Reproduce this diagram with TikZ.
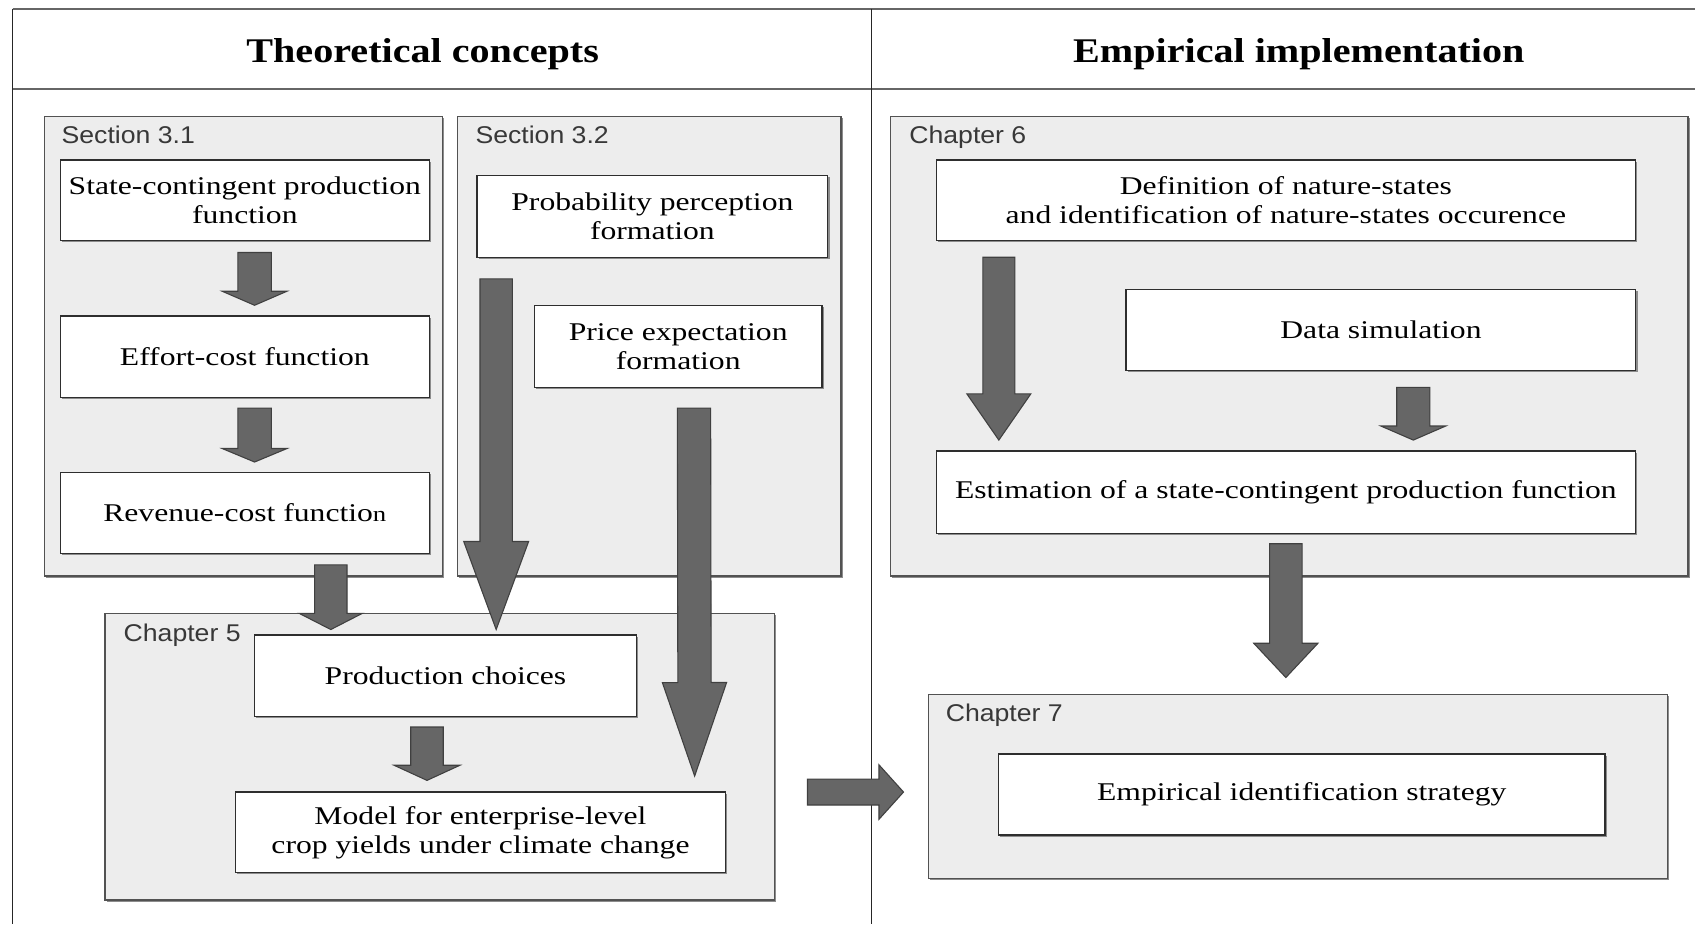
\documentclass[tikz,border=0pt]{standalone}
\usepackage{fontspec}
\setmainfont[FakeStretch=1.24]{Liberation Serif}
\newfontfamily\headfont[FakeStretch=1.16]{Liberation Serif}
\setsansfont[FakeStretch=1.1]{Liberation Sans}
\usetikzlibrary{calc,shadows}

% block arrow: #1 start, #2 tip, #3 half shaft width, #4 half head width, #5 head length
\newcommand\fatarrow[5]{%
  \draw[fatarrowstyle] let \p1=(#1), \p2=(#2),
     \n1={veclen(\x2-\x1,\y2-\y1)},
     \n2={(\x2-\x1)/\n1}, \n3={(\y2-\y1)/\n1}
  in ({\x1+(#3)*\n3},{\y1-(#3)*\n2})
  -- ({\x2-(#5)*\n2+(#3)*\n3},{\y2-(#5)*\n3-(#3)*\n2})
  -- ({\x2-(#5)*\n2+(#4)*\n3},{\y2-(#5)*\n3-(#4)*\n2})
  -- (\x2,\y2)
  -- ({\x2-(#5)*\n2-(#4)*\n3},{\y2-(#5)*\n3+(#4)*\n2})
  -- ({\x2-(#5)*\n2-(#3)*\n3},{\y2-(#5)*\n3+(#3)*\n2})
  -- ({\x1-(#3)*\n3},{\y1+(#3)*\n2}) -- cycle;}

\tikzset{
  frameline/.style={draw=black!60, line width=1.6pt},
  framevert/.style={draw=black!85, line width=1.1pt},
  container/.style={draw=black!68, fill=black!7, line width=1.2pt, inner sep=0pt,
    drop shadow={shadow xshift=1.6pt, shadow yshift=-1.6pt, fill=black!45, opacity=1}},
  stepbox/.style={draw=black!82, fill=white, line width=1.2pt, inner sep=0pt, align=center,
    font=\fontsize{23.6}{26.8}\selectfont,
    drop shadow={shadow xshift=1.6pt, shadow yshift=-1.6pt, fill=black!45, opacity=1}},
  partlabel/.style={anchor=base west, inner sep=0pt, text=black!78,
    font=\sffamily\fontsize{22.4}{26}\selectfont},
  columnhead/.style={anchor=base, inner sep=0pt, font=\headfont\bfseries\fontsize{32}{36}\selectfont},
  fatarrowstyle/.style={fill=black!60, draw=black!75, line width=1pt, line join=miter},
}

\begin{document}
\begin{tikzpicture}[x=1pt,y=-1pt]
\useasboundingbox (0,0) rectangle (1568,855);
\fill[white] (0,0) rectangle (1568,855);

% table frame
\coordinate (tl) at (11.7,8);
\coordinate (tr) at (1568,8);
\coordinate (hl) at (11.7,82.6);
\coordinate (hr) at (1568,82.6);
\coordinate (bl) at (11.7,855);
\coordinate (mt) at (806.5,8);
\coordinate (mb) at (806.5,855);
\draw[frameline] (tl) -- (tr);
\draw[frameline] (hl) -- (hr);
\draw[framevert] (tl) -- (bl);
\draw[framevert] (mt) -- (mb);

\node[columnhead] (h1) at (391,57.6) {Theoretical concepts};
\node[columnhead] (h2) at (1201.5,58.2) {Empirical implementation};

% containers
\node[container, minimum width=368.5, minimum height=424.8] (sec31) at (225.2,320.4) {};
\node[container, minimum width=354.8, minimum height=424.8] (sec32) at (600.6,320.4) {};
\node[container, minimum width=737.8, minimum height=424.8] (ch6) at (1192.6,320.4) {};
\node[container, minimum width=619.2, minimum height=265.2] (ch5) at (406.8,700) {};
\node[container, minimum width=683.2, minimum height=170.5] (ch7) at (1200.7,727.5) {};

\node[partlabel] (l31) at (56.8,133.2) {Section 3.1};
\node[partlabel] (l32) at (439.7,133.2) {Section 3.2};
\node[partlabel] (l6) at (841,132.6) {Chapter 6};
\node[partlabel] (l5) at (114.2,593) {Chapter 5};
\node[partlabel] (l7) at (874.7,667.6) {Chapter 7};

% step boxes
\node[stepbox, minimum width=341.4, minimum height=74.6] (sc) at (226.5,185.3) {State-contingent production\\function};
\node[stepbox, minimum width=341.4, minimum height=75.6] (ec) at (226.5,330.1) {Effort-cost function};
\node[stepbox, minimum width=341.4, minimum height=74.6] (rc) at (226.5,474.6) {Revenue-cost functio{\fontsize{20}{24}\selectfont n}};
\node[stepbox, minimum width=324.5, minimum height=75.5] (pp) at (603.5,200.2) {Probability perception\\formation};
\node[stepbox, minimum width=266, minimum height=75.5] (pe) at (627.4,320.5) {Price expectation\\formation};
\node[stepbox, minimum width=353.7, minimum height=75.5] (pc) at (412.1,625.2) {Production choices};
\node[stepbox, minimum width=453.6, minimum height=74.6] (mo) at (444.5,770) {Model for enterprise-level\\crop yields under climate change};
\node[stepbox, minimum width=647, minimum height=74.6] (dn) at (1189.5,185.3) {Definition of nature-states\\and identification of nature-states occurence};
\node[stepbox, minimum width=471.5, minimum height=75] (ds) at (1277.5,305.1) {Data simulation};
\node[stepbox, minimum width=647, minimum height=76] (es) at (1189.5,455.3) {Estimation of a state-contingent production function};
\node[stepbox, minimum width=560.8, minimum height=75] (ei) at (1204.2,735) {Empirical identification strategy};

% block arrows
\fatarrow{$(sc.south)+(9,10.4)$}{$(ec.north)+(9,-9.3)$}{15.5pt}{30pt}{13pt}
\fatarrow{$(ec.south)+(9,9.1)$}{$(rc.north)+(9,-9.3)$}{15.5pt}{30pt}{12.5pt}
\fatarrow{$(rc.south)+(79.5,10.1)$}{$(pc.north)+(-106.1,-4.5)$}{15pt}{29.3pt}{15pt}
\fatarrow{$(pp.south)+(-144.5,19.5)$}{$(pc.north)+(46.9,-4.5)$}{15pt}{30pt}{81.4pt}
\fatarrow{$(pe.south)+(14.6,18.7)$}{$(mo.north east)+(-29.3,-14.2)$}{15.4pt}{29.7pt}{86.5pt}
\fatarrow{$(pc.south)+(-17.1,9)$}{$(mo.north)+(-49.5,-10.2)$}{15pt}{30.5pt}{14pt}
\fatarrow{$(ch5.east)+(30,32.7)$}{$(ch7.west)+(-22.7,5.2)$}{12pt}{25.2pt}{22.7pt}
\fatarrow{$(dn.south west)+(58.6,14.8)$}{$(es.north west)+(58.6,-9.6)$}{14.8pt}{29.6pt}{42.8pt}
\fatarrow{$(ds.south)+(29.9,15.1)$}{$(es.north)+(117.9,-9.6)$}{15.3pt}{30pt}{13pt}
\fatarrow{$(es.south)+(0,9.1)$}{$(ch7.north)+(-11.2,-14.9)$}{15pt}{29.7pt}{31.7pt}
\end{tikzpicture}
\end{document}
